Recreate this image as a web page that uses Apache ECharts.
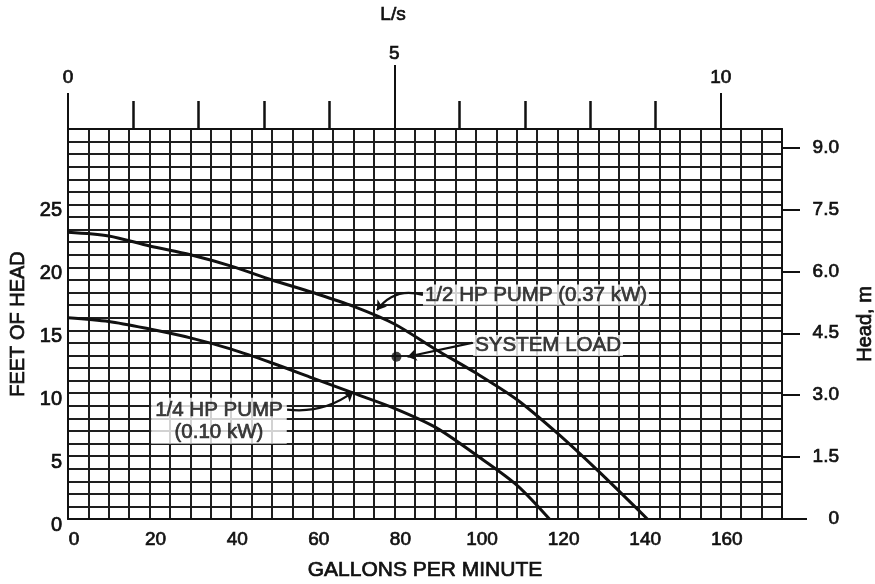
<!DOCTYPE html>
<html>
<head>
<meta charset="utf-8">
<script src="https://cdn.jsdelivr.net/npm/echarts@6/dist/echarts.min.js"></script>
<style>html,body{margin:0;padding:0;background:#fff}#c{width:875px;height:584px}</style>
</head>
<body>
<div id="c"></div>
<script>
// ---- data ----
const gpmHalfHp = [0, 10, 20, 30, 40, 50, 60, 70, 80, 90, 100, 110, 120, 130, 142];
const headHalfHp = [22.8, 22.5, 21.7, 21.0, 20.1, 19.0, 18.0, 16.9, 15.5, 13.5, 11.6, 9.5, 6.8, 3.8, 0];
const gpmQuarterHp = [0, 10, 20, 30, 40, 50, 60, 70, 80, 90, 100, 110, 118];
const headQuarterHp = [16.0, 15.7, 15.1, 14.4, 13.5, 12.4, 11.2, 10.0, 8.8, 7.3, 5.1, 2.7, 0];
const systemLoad = [80.5, 12.9];
const gpmTickLabels = [0, 20, 40, 60, 80, 100, 120, 140, 160];
const feetTickLabels = [0, 5, 10, 15, 20, 25];
const meterTickLabels = [0, 1.5, 3.0, 4.5, 6.0, 7.5, 9.0];
const lpsMinorTicks = [1, 2, 3, 4, 6, 7, 8, 9];
const lpsEndTicks = [0, 10];
const lpsMidTick = [5];
const gpmRange = [0, 175];
const feetRange = [0, 31];
const lpsMax = 10.9375;
const meterMax = 9.4488;
const labelHalfHp = '1/2 HP PUMP (0.37 kW)';
const labelQuarterHp = '1/4 HP PUMP\n(0.10 kW)';
const labelSystem = 'SYSTEM LOAD';
// annotation anchors (data coordinates: GPM, ft)
const anchorHalfHpText = [87.0, 17.8];
const anchorSystemText = [99.3, 13.8];
const anchorQuarterHpText = [37.0, 7.8];
const leaderHalfHp = [[87.0, 17.8], [75.7, 16.6]];
const leaderSystem = [[99.0, 14.0], [83.2, 12.9]];
const leaderQuarterHp = [[53.7, 8.7], [69.9, 10.1]];

const FONT = "'Liberation Sans', Arial, sans-serif";
const INK = '#111';
const EDGE = 1e-4; // keep edge ticks just inside the extent so they are drawn
const chart = echarts.init(document.getElementById('c'), null, {renderer: 'canvas'});

const zip = (a, b) => a.map((v, i) => [v, b[i]]);
const txt = (size, extra) => Object.assign({fontFamily: FONT, fontSize: size, color: INK, textBorderColor: INK, textBorderWidth: 0.7}, extra || {});

const option = {
  backgroundColor: '#fff',
  animation: false,
  textStyle: {fontFamily: FONT, color: INK},
  title: {
    text: 'L/s', left: 388, top: 0, textAlign: 'center',
    textStyle: txt(19, {fontWeight: 'normal'})
  },
  grid: {left: 68, right: 93, top: 129, bottom: 65, containLabel: false, outerBoundsMode: 'none'},
  xAxis: [
    {
      type: 'value', position: 'bottom', min: gpmRange[0], max: gpmRange[1], interval: 5,
      name: 'GALLONS PER MINUTE', nameLocation: 'middle', nameGap: 41,
      nameTextStyle: txt(21),
      axisLine: {show: true, onZero: false, lineStyle: {color: INK, width: 2}},
      axisTick: {show: false},
      axisLabel: Object.assign(txt(19), {customValues: gpmTickLabels, margin: 11, padding: [0, 0, 0, 12]}),
      splitLine: {show: true, lineStyle: {color: '#1e1e1e', width: 2}}
    },
    {
      type: 'value', position: 'top', min: 0, max: lpsMax,
      axisLine: {show: true, onZero: false, lineStyle: {color: INK, width: 2}},
      axisTick: {show: true, customValues: lpsMinorTicks, length: 28, lineStyle: {color: INK, width: 2.5}},
      axisLabel: {show: false},
      splitLine: {show: false}
    },
    {
      type: 'value', position: 'top', min: 0, max: lpsMax,
      axisLine: {show: false, onZero: false},
      axisTick: {show: true, customValues: [EDGE, lpsEndTicks[1]], length: 36, lineStyle: {color: INK, width: 2}},
      axisLabel: Object.assign(txt(19), {customValues: lpsEndTicks, margin: 42}),
      splitLine: {show: false}
    },
    {
      type: 'value', position: 'top', min: 0, max: lpsMax,
      axisLine: {show: false, onZero: false},
      axisTick: {show: true, customValues: lpsMidTick, length: 64, lineStyle: {color: INK, width: 2}},
      axisLabel: Object.assign(txt(19), {customValues: lpsMidTick, margin: 66}),
      splitLine: {show: false}
    }
  ],
  yAxis: [
    {
      type: 'value', position: 'left', min: feetRange[0], max: feetRange[1], interval: 1,
      name: 'FEET OF HEAD', nameLocation: 'middle', nameGap: 38,
      nameTextStyle: txt(20),
      axisLine: {show: true, onZero: false, lineStyle: {color: INK, width: 2}},
      axisTick: {show: false},
      axisLabel: Object.assign(txt(20), {customValues: feetTickLabels, margin: 6, verticalAlign: 'top', lineHeight: 12}),
      splitLine: {show: true, lineStyle: {color: '#1e1e1e', width: 2}}
    },
    {
      type: 'value', position: 'right', min: 0, max: meterMax,
      name: 'Head, m', nameLocation: 'middle', nameGap: 73,
      nameTextStyle: txt(20),
      axisLine: {show: true, onZero: false, lineStyle: {color: INK, width: 2}},
      axisTick: {show: true, customValues: meterTickLabels.slice(1), length: 18, lineStyle: {color: INK, width: 2}},
      axisLabel: Object.assign(txt(19), {
        customValues: meterTickLabels, margin: 57, align: 'right',
        formatter: v => (v === 0 ? '0' : v.toFixed(1))
      }),
      splitLine: {show: false}
    },
    {
      type: 'value', position: 'right', min: 0, max: meterMax,
      axisLine: {show: false, onZero: false},
      axisTick: {show: true, customValues: [EDGE], length: 25, lineStyle: {color: INK, width: 2}},
      axisLabel: {show: false},
      splitLine: {show: false}
    }
  ],
  series: [
    {
      name: '1/2 HP', type: 'line', data: zip(gpmHalfHp, headHalfHp), smooth: 0.3,
      symbol: 'none', lineStyle: {color: INK, width: 3}, z: 5
    },
    {
      name: '1/4 HP', type: 'line', data: zip(gpmQuarterHp, headQuarterHp), smooth: 0.3,
      symbol: 'none', lineStyle: {color: INK, width: 3}, z: 5
    },
    {
      name: 'System load', type: 'scatter', data: [systemLoad], symbol: 'circle', symbolSize: 10,
      itemStyle: {color: INK}, z: 6
    },
    {
      name: 'leaders', type: 'lines', coordinateSystem: 'cartesian2d', z: 7,
      symbol: ['none', 'arrow'], symbolSize: [0, 9],
      lineStyle: {color: INK, width: 2.2, opacity: 1},
      data: [
        {coords: leaderHalfHp, lineStyle: {curveness: -0.35}},
        {coords: leaderSystem, lineStyle: {curveness: 0}},
        {coords: leaderQuarterHp, lineStyle: {curveness: -0.2}}
      ]
    },
    {
      name: 'annotations', type: 'scatter', symbolSize: 0, z: 8, silent: true,
      label: Object.assign(txt(20.5), {show: true, backgroundColor: '#fff', padding: [0, 2]}),
      data: [
        {value: anchorHalfHpText, label: {formatter: labelHalfHp, position: 'right', distance: 0}},
        {value: anchorSystemText, label: {formatter: labelSystem, position: 'right', distance: 0}},
        {value: anchorQuarterHpText, label: {formatter: labelQuarterHp, position: 'inside', align: 'center', lineHeight: 22, padding: [1, 4]}}
      ]
    }
  ]
};
chart.setOption(option);
</script>
</body>
</html>
